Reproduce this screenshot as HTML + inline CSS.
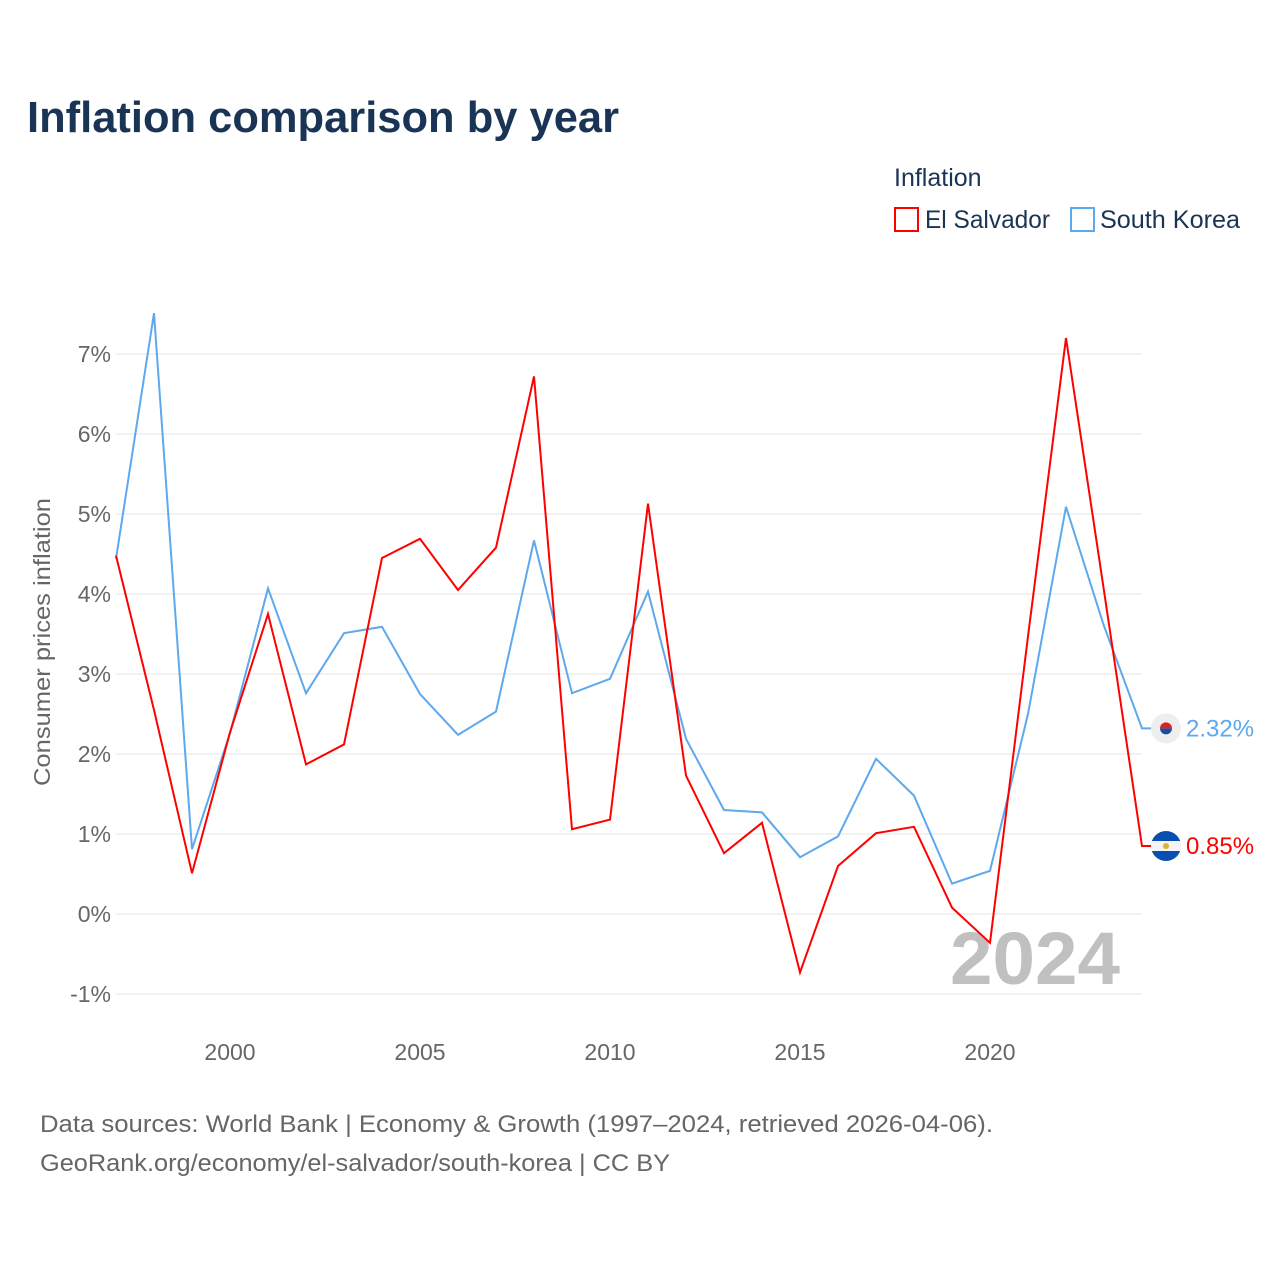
<!DOCTYPE html>
<html><head><meta charset="utf-8"><style>
body{margin:0;background:#fff;font-family:"Liberation Sans",sans-serif}
#wrap{position:relative;width:1280px;height:1280px}
</style></head><body>
<div id="wrap">
<svg id="svg" width="1280" height="1280" xmlns="http://www.w3.org/2000/svg">
<text x="27" y="132" font-size="44" font-weight="bold" fill="#1a3455" textLength="592" lengthAdjust="spacingAndGlyphs">Inflation comparison by year</text>
<text x="894" y="186" font-size="25" fill="#1a3455">Inflation</text>
<g><rect x="895" y="208" width="23" height="23" fill="none" stroke="#ff0000" stroke-width="2"/><text x="925" y="228" font-size="25" fill="#1a3455" textLength="125" lengthAdjust="spacingAndGlyphs">El Salvador</text></g>
<g><rect x="1071" y="208" width="23" height="23" fill="none" stroke="#5ea8ee" stroke-width="2"/><text x="1100" y="228" font-size="25" fill="#1a3455" textLength="140" lengthAdjust="spacingAndGlyphs">South Korea</text></g>
<text transform="translate(50,642) rotate(-90)" text-anchor="middle" font-size="23" fill="#666" textLength="288" lengthAdjust="spacingAndGlyphs">Consumer prices inflation</text>
<g id="grid"></g><g id="yt"></g><g id="xt"></g>
<text x="1120" y="984" text-anchor="end" font-size="74" font-weight="bold" fill="#c0c0c0" textLength="170" lengthAdjust="spacingAndGlyphs">2024</text>
<g id="lines"></g>
<text x="40" y="1132" font-size="24" fill="#666" textLength="953" lengthAdjust="spacingAndGlyphs">Data sources: World Bank | Economy &amp; Growth (1997–2024, retrieved 2026-04-06).</text>
<text x="40" y="1171" font-size="24" fill="#666" textLength="630" lengthAdjust="spacingAndGlyphs">GeoRank.org/economy/el-salvador/south-korea | CC BY</text>
</svg></div>
<script>
const years=[1997,1998,1999,2000,2001,2002,2003,2004,2005,2006,2007,2008,2009,2010,2011,2012,2013,2014,2015,2016,2017,2018,2019,2020,2021,2022,2023,2024];
const elSalvador=[4.48,2.55,0.51,2.27,3.75,1.87,2.12,4.45,4.69,4.05,4.58,6.72,1.06,1.18,5.13,1.73,0.76,1.14,-0.73,0.6,1.01,1.09,0.08,-0.36,3.47,7.2,4.04,0.85];
const southKorea=[4.44,7.51,0.81,2.26,4.07,2.76,3.51,3.59,2.75,2.24,2.53,4.67,2.76,2.94,4.03,2.19,1.30,1.27,0.71,0.97,1.94,1.48,0.38,0.54,2.5,5.09,3.6,2.32];
const yTicks=[-1,0,1,2,3,4,5,6,7];
const xTicks=[2000,2005,2010,2015,2020];
const X=y=>116+(y-1997)*38, Y=v=>914-v*80;
const NS="http://www.w3.org/2000/svg";
function mk(t,a,p){const e=document.createElementNS(NS,t);for(const k in a)e.setAttribute(k,a[k]);p.appendChild(e);return e;}
const grid=document.getElementById('grid'),yt=document.getElementById('yt'),xt=document.getElementById('xt'),lines=document.getElementById('lines');
yTicks.forEach(v=>{
 const l=mk('line',{x1:116,x2:1142,y1:Y(v),y2:Y(v),stroke:'#e6e6e6','stroke-width':1},grid);
 
 
 const t=mk('text',{x:111,y:Y(v)+8,'text-anchor':'end','font-size':23,fill:'#666'},yt);
 t.textContent=v+'%';
 
 
});
xTicks.forEach(v=>{
 const t=mk('text',{x:X(v),y:1060,'text-anchor':'middle','font-size':23,fill:'#666'},xt);
 t.textContent=v;
 
 
});
function series(vals,color,name){
 let d=vals.map((v,i)=>(i?'L':'M')+X(years[i])+','+Y(v)).join(' ');
 const last=vals[vals.length-1];
 d+=' L'+(X(years[years.length-1])+10)+','+Y(last);
 const p=mk('path',{d:d,fill:'none',stroke:color,'stroke-width':2},lines);
 
 
 const t=mk('text',{x:1186,y:Y(last)+8,'font-size':24,fill:color},lines);
 t.textContent=last.toFixed(2)+'%';
 
 
 return Y(last);
}
const ys=series(southKorea,'#5ea8ee','south-korea');
const ye=series(elSalvador,'#ff0000','el-salvador');
const fk=mk('g',{},lines);


mk('circle',{cx:1166,cy:ys,r:15,fill:'#eee'},fk);
mk('path',{d:`M1160,${ys} a6,6 0 0 1 12,0 z`,fill:'#d22'},fk);
mk('path',{d:`M1160,${ys} a6,6 0 0 0 12,0 z`,fill:'#1a4fa0'},fk);
const fe=mk('g',{},lines);


mk('circle',{cx:1166,cy:ye,r:15,fill:'#0a4fb0'},fe);
mk('rect',{x:1151,y:ye-5,width:30,height:10,fill:'#f4f4f4'},fe);
mk('circle',{cx:1166,cy:ye,r:3,fill:'#e0b030'},fe);
</script>
</body></html>
